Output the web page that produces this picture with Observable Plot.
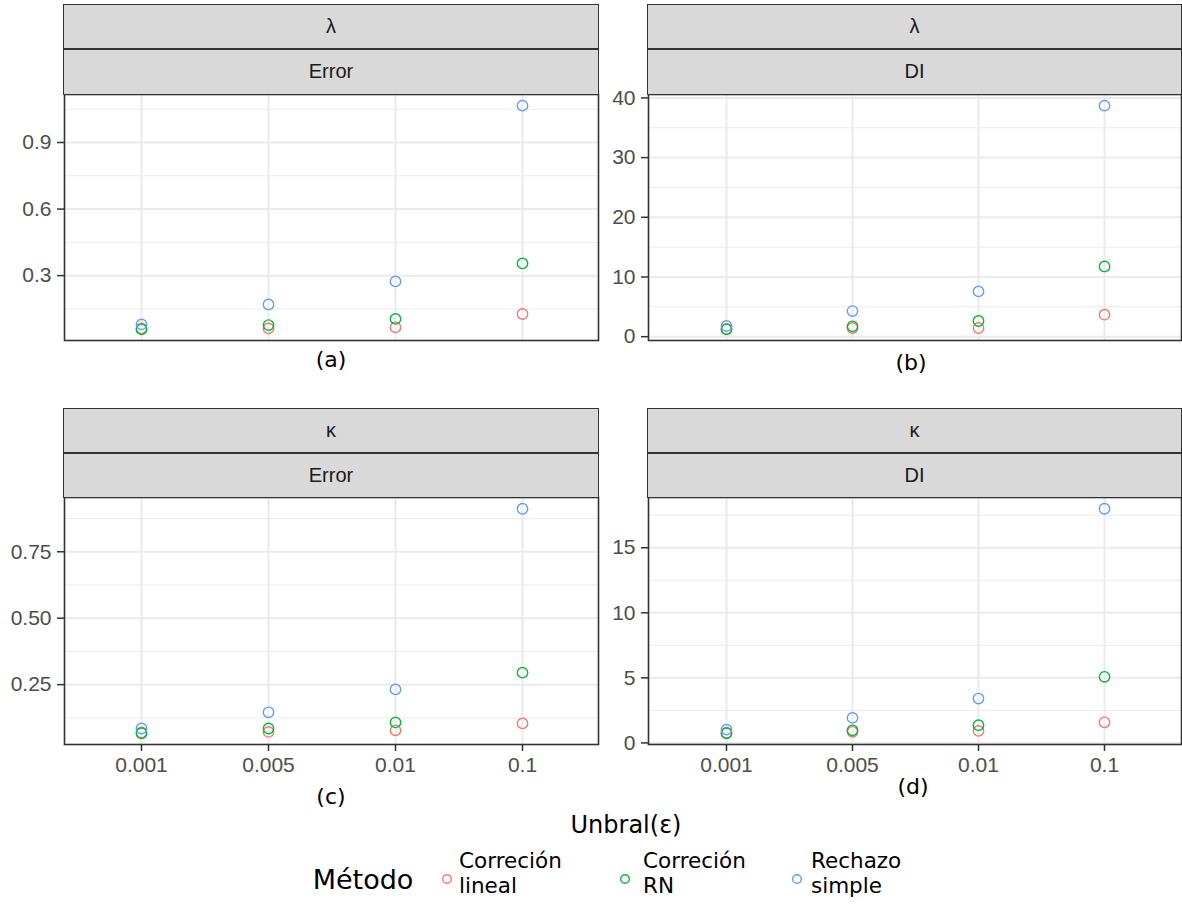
<!DOCTYPE html>
<html>
<head>
<meta charset="utf-8">
<script src="https://cdn.jsdelivr.net/npm/d3@7"></script>
<script src="https://cdn.jsdelivr.net/npm/@observablehq/plot@0.6"></script>
<style>
  html, body { margin: 0; padding: 0; background: #fff; }
  #fig { position: relative; width: 1182px; height: 905px; background: #fff; overflow: hidden; }
  #fig > svg, #fig > .plot { position: absolute; }
  .strip {
    position: absolute; box-sizing: border-box; background: #d9d9d9;
    border: 1.5px solid #333; display: flex; align-items: center; justify-content: center;
    font-family: "Liberation Sans", Arial, sans-serif; font-size: 20px; color: #1a1a1a;
  }
  .lab {
    position: absolute; transform: translate(-50%, -50%); white-space: nowrap;
    font-family: "DejaVu Sans", sans-serif; color: #000;
  }
  .legend-key { position: absolute; }
  .legend-text {
    position: absolute; font-family: "DejaVu Sans", sans-serif; font-size: 21.5px;
    line-height: 25px; color: #000; white-space: nowrap;
  }
</style>
</head>
<body>
<div id="fig"></div>
<script>
// Umbrales de aceptación (eje x) y métodos comparados
const umbrales = ["0.001", "0.005", "0.01", "0.1"];
const metodos = ["Correción lineal", "Correción RN", "Rechazo simple"];
const etiquetasMetodo = [["Correción", "lineal"], ["Correción", "RN"], ["Rechazo", "simple"]];
const colores = ["#F8766D", "#00BA38", "#619CFF"];

// Parámetros (primera fila de franjas) y medidas (segunda fila)
const parametros = ["λ", "κ"];
const medidas = ["Error", "DI"];
const subfiguras = ["(a)", "(b)", "(c)", "(d)"];

// λ — Error
const lambdaErrorLineal   = [0.062, 0.062, 0.067, 0.127];
const lambdaErrorRN       = [0.058, 0.077, 0.105, 0.355];
const lambdaErrorRechazo  = [0.080, 0.170, 0.274, 1.066];
// λ — DI
const lambdaDILineal      = [1.30, 1.45, 1.45, 3.68];
const lambdaDIRN          = [1.23, 1.73, 2.62, 11.76];
const lambdaDIRechazo     = [1.79, 4.29, 7.58, 38.7];
// κ — Error
const kappaErrorLineal    = [0.070, 0.072, 0.078, 0.104];
const kappaErrorRN        = [0.067, 0.085, 0.108, 0.295];
const kappaErrorRechazo   = [0.085, 0.146, 0.232, 0.912];
// κ — DI
const kappaDILineal       = [0.78, 0.85, 0.92, 1.58];
const kappaDIRN           = [0.74, 0.97, 1.36, 5.08];
const kappaDIRechazo      = [1.02, 1.92, 3.41, 18.0];

// Marcas del eje y de cada panel
const ticksLambdaError = [0.3, 0.6, 0.9];
const ticksLambdaDI    = [0, 10, 20, 30, 40];
const ticksKappaError  = [0.25, 0.5, 0.75];
const ticksKappaDI     = [0, 5, 10, 15];

const fig = document.getElementById("fig");

function tabla(series) {
  return metodos.flatMap((m, i) => umbrales.map((u, j) => ({umbral: u, metodo: m, valor: series[i][j]})));
}

function strip(left, top, width, height, text) {
  const d = document.createElement("div");
  d.className = "strip";
  Object.assign(d.style, {left: left + "px", top: top + "px", width: width + "px", height: height + "px"});
  d.textContent = text;
  fig.appendChild(d);
}

function etiqueta(x, y, text, size) {
  const d = document.createElement("div");
  d.className = "lab";
  Object.assign(d.style, {left: x + "px", top: y + "px", fontSize: size + "px"});
  d.textContent = text;
  fig.appendChild(d);
}

function panel({series, ticks, fmt, svgLeft, svgTop, marginLeft, panelW, panelH, ejeX}) {
  const datos = tabla(series);
  const [lo0, hi0] = d3.extent(datos, d => d.valor);
  const pad = (hi0 - lo0) * 0.05;
  const lo = lo0 - pad, hi = hi0 + pad;
  const step = ticks[1] - ticks[0];
  const menores = d3.range(ticks[0] - step / 2, hi, step).filter(v => v >= lo && v <= hi);
  const marginTop = 1, marginRight = 1, marginBottom = ejeX ? 40 : 4;
  const marks = [
    Plot.gridY(menores, {stroke: "#ebebeb", strokeOpacity: 1, strokeWidth: 1}),
    Plot.gridY(ticks, {stroke: "#ebebeb", strokeOpacity: 1, strokeWidth: 2}),
    Plot.gridX(umbrales, {stroke: "#ebebeb", strokeOpacity: 1, strokeWidth: 2}),
    Plot.dot(datos, {x: "umbral", y: "valor", stroke: "metodo", fill: "none", r: 5.2, strokeWidth: 1.4}),
    Plot.frame({stroke: "#333", strokeWidth: 1.6}),
    Plot.axisY(ticks, {tickSize: 7, tickPadding: 6, stroke: "#333", strokeWidth: 1.5, fill: "#4d4d4d",
      fontSize: 21, tickFormat: fmt, label: null})
  ];
  if (ejeX) {
    marks.push(Plot.axisX(umbrales, {tickSize: 7, tickPadding: 6, stroke: "#333", strokeWidth: 1.5,
      fill: "#4d4d4d", fontSize: 21, label: null}));
  }
  const svg = Plot.plot({
    width: marginLeft + panelW + marginRight,
    height: marginTop + panelH + marginBottom,
    marginLeft, marginRight, marginTop, marginBottom,
    x: {type: "point", domain: umbrales, padding: 0.6, axis: null},
    y: {domain: [lo, hi], axis: null},
    color: {domain: metodos, range: colores},
    style: {background: "transparent", fontFamily: "'Liberation Sans', Arial, sans-serif", overflow: "visible"},
    marks
  });
  svg.style.left = svgLeft + "px";
  svg.style.top = svgTop + "px";
  fig.appendChild(svg);
}

// Columnas y filas de la cuadrícula de paneles
const col = [{left: 64, w: 534, svgLeft: 0}, {left: 648, w: 533, svgLeft: 590}];
const fila = [{stripTop: 5, panelTop: 94, h: 246, ejeX: false}, {stripTop: 409, panelTop: 497, h: 247, ejeX: true}];

const paneles = [
  {series: [lambdaErrorLineal, lambdaErrorRN, lambdaErrorRechazo], ticks: ticksLambdaError, fmt: d3.format(".1f")},
  {series: [lambdaDILineal, lambdaDIRN, lambdaDIRechazo], ticks: ticksLambdaDI, fmt: d3.format("d")},
  {series: [kappaErrorLineal, kappaErrorRN, kappaErrorRechazo], ticks: ticksKappaError, fmt: d3.format(".2f")},
  {series: [kappaDILineal, kappaDIRN, kappaDIRechazo], ticks: ticksKappaDI, fmt: d3.format("d")}
];
const posSub = [[331, 359], [911, 362], [331, 796], [913, 786]];

paneles.forEach((p, k) => {
  const r = fila[Math.floor(k / 2)], c = col[k % 2];
  panel({...p, svgLeft: c.svgLeft, svgTop: r.panelTop - 1, marginLeft: c.left - c.svgLeft,
    panelW: c.w, panelH: r.h, ejeX: r.ejeX});
  strip(c.left - 0.75, r.stripTop - 0.75, c.w + 1.5, 45, parametros[Math.floor(k / 2)]);
  strip(c.left - 0.75, r.stripTop + 43.5, c.w + 1.5, r.panelTop - r.stripTop - 43, medidas[k % 2]);
  etiqueta(posSub[k][0], posSub[k][1], subfiguras[k], 22);
});

// Título del eje x compartido
etiqueta(626, 825, "Unbral(ε)", 24);

// Leyenda de métodos
etiqueta(363, 879, "Método", 27);
const clave = [{cx: 447, tx: 459}, {cx: 625, tx: 643}, {cx: 797, tx: 811}];
metodos.forEach((m, i) => {
  const s = d3.create("svg").attr("class", "legend-key").attr("width", 14).attr("height", 14)
    .style("left", (clave[i].cx - 7) + "px").style("top", (879 - 7) + "px");
  s.append("circle").attr("cx", 7).attr("cy", 7).attr("r", 4.3)
    .attr("fill", "none").attr("stroke", colores[i]).attr("stroke-width", 1.4);
  fig.appendChild(s.node());
  const t = document.createElement("div");
  t.className = "legend-text";
  t.style.left = clave[i].tx + "px";
  t.style.top = "848px";
  t.innerHTML = etiquetasMetodo[i].join("<br>");
  fig.appendChild(t);
});
</script>
</body>
</html>
